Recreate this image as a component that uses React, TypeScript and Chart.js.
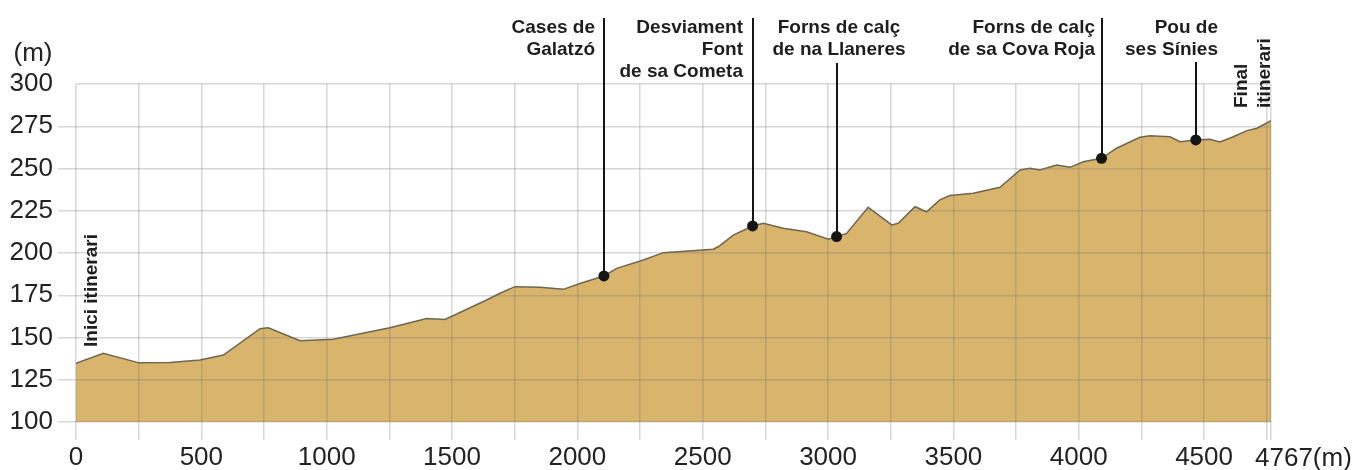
import React, { useEffect, useRef } from 'react';
import { Chart, registerables } from 'chart.js';

Chart.register(...registerables);

// ---- Data ----
const distances = [
  0, 109, 251, 375, 495, 588, 734, 767, 894, 1026, 1252, 1399, 1472, 1638, 1691, 1751, 1851, 1944,
  2010, 2106, 2157, 2263, 2343, 2542, 2562, 2622, 2699, 2742, 2821, 2914, 3001, 3034, 3074, 3160,
  3254, 3280, 3347, 3393, 3446, 3486, 3579, 3686, 3766, 3805, 3845, 3912, 3965, 4018, 4091, 4151,
  4244, 4284, 4364, 4404, 4467, 4523, 4563, 4617, 4671, 4711, 4767,
];
const elevations = [
  134.7, 140.6, 135, 135.2, 136.7, 139.6, 155.2, 155.8, 148.1, 148.9, 155.8, 161.3, 160.7, 172.2,
  176.2, 180.1, 179.7, 178.5, 182, 186.4, 190.9, 195.9, 200.2, 202.2, 203.7, 210.6, 216, 217.6,
  214.6, 212.6, 208.1, 209.7, 211.6, 227, 216.6, 217.6, 227.4, 224.4, 231.4, 234, 235.3, 238.9,
  249.1, 250.1, 249.1, 252.1, 250.7, 254, 256, 262, 268.5, 269.4, 268.8, 265.9, 266.9, 267.3,
  265.7, 268.8, 272.4, 273.8, 278.3,
];

const poiNames = [
  ['Cases de', 'Galatzó'],
  ['Desviament', 'Font', 'de sa Cometa'],
  ['Forns de calç', 'de na Llaneres'],
  ['Forns de calç', 'de sa Cova Roja'],
  ['Pou de', 'ses Sínies'],
];
const poiDistances = [2106, 2699, 3034, 4091, 4467];
const poiElevations = [186.4, 216, 209.7, 256, 266.9];

const xGridValues = [
  0, 250, 500, 750, 1000, 1250, 1500, 1750, 2000, 2250, 2500, 2750, 3000, 3250, 3500, 3750, 4000,
  4250, 4500, 4750, 4767,
];
const xLabeledValues = [0, 500, 1000, 1500, 2000, 2500, 3000, 3500, 4000, 4500];
const lastXLabel = '4767(m)';
const yUnitLabel = '(m)';
const startLabel = 'Inici itinerari';
const endLabel = ['Final', 'itinerari'];

// ---- Styling / layout (not data) ----
const FONT = '"Liberation Sans", Arial, Helvetica, sans-serif';
const poiLayout = [
  { align: 'right', dx: -9, top: 18 },
  { align: 'right', dx: -10, top: 18 },
  { align: 'center', dx: 2, top: 63 },
  { align: 'right', dx: -7, top: 18 },
  { align: 'right', dx: 22, top: 62 },
];

const overlayPlugin = {
  id: 'overlay',
  afterDraw(chart: any) {
    const ctx = chart.ctx as CanvasRenderingContext2D;
    const xs = chart.scales.x;
    const ys = chart.scales.y;
    ctx.save();
    ctx.fillStyle = '#1e1e1e';
    ctx.strokeStyle = '#151515';
    ctx.lineWidth = 2;
    ctx.font = `bold 19px ${FONT}`;
    ctx.textBaseline = 'alphabetic';
    poiNames.forEach((lines, i) => {
      const px = Math.round(xs.getPixelForValue(poiDistances[i])) + 0.0;
      const py = ys.getPixelForValue(poiElevations[i]);
      const lay = poiLayout[i];
      ctx.beginPath();
      ctx.moveTo(px, lay.top);
      ctx.lineTo(px, py);
      ctx.stroke();
      ctx.textAlign = lay.align as CanvasTextAlign;
      lines.forEach((t, j) => ctx.fillText(t, px + lay.dx, 33 + j * 22));
    });

    // rotated start / end labels
    const x0 = xs.getPixelForValue(0);
    const x1 = xs.getPixelForValue(4767);
    ctx.textAlign = 'left';
    ctx.save();
    ctx.translate(x0 + 21, 347);
    ctx.rotate(-Math.PI / 2);
    ctx.fillText(startLabel, 0, 0);
    ctx.restore();
    ctx.save();
    ctx.translate(x1 - 24, 108);
    ctx.rotate(-Math.PI / 2);
    ctx.fillText(endLabel[0], 0, 0);
    ctx.restore();
    ctx.save();
    ctx.translate(x1 - 1, 108);
    ctx.rotate(-Math.PI / 2);
    ctx.fillText(endLabel[1], 0, 0);
    ctx.restore();

    // axis unit labels
    ctx.fillStyle = '#222';
    ctx.font = `26px ${FONT}`;
    ctx.textAlign = 'center';
    ctx.fillText(yUnitLabel, 33, 61);
    ctx.textAlign = 'left';
    ctx.fillText(lastXLabel, x1 - 16, 466);
    ctx.restore();
  },
};

export default function App() {
  const canvasRef = useRef<HTMLCanvasElement | null>(null);

  useEffect(() => {
    if (!canvasRef.current) return;
    const profile = distances.map((d, i) => ({ x: d, y: elevations[i] }));
    const markers = poiDistances.map((d, i) => ({ x: d, y: poiElevations[i] }));
    const chart = new Chart(canvasRef.current, {
      type: 'line',
      data: {
        datasets: [
          {
            data: markers,
            showLine: false,
            pointRadius: 5.5,
            pointBackgroundColor: '#151515',
            pointBorderWidth: 0,
            order: 0,
          },
          {
            data: profile,
            borderColor: '#6f6650',
            borderWidth: 1.5,
            backgroundColor: '#d9b46c',
            fill: 'start',
            pointRadius: 0,
            tension: 0,
            order: 1,
          },
        ],
      },
      options: {
        responsive: false,
        animation: false,
        layout: { padding: { top: 84, right: 91, left: 0, bottom: 0 } },
        plugins: { legend: { display: false }, tooltip: { enabled: false } },
        scales: {
          x: {
            type: 'linear',
            min: 0,
            max: 4767,
            border: { display: false },
            grid: {
              z: 1,
              color: 'rgba(110,110,110,0.28)',
              lineWidth: 1.5,
              tickLength: 18,
              tickColor: 'rgba(110,110,110,0.28)',
            },
            afterBuildTicks: (scale: any) => {
              scale.ticks = xGridValues.map((v) => ({ value: v }));
            },
            afterFit: (scale: any) => {
              scale.height = 48;
            },
            ticks: {
              autoSkip: false,
              maxRotation: 0,
              padding: 2,
              color: '#222',
              font: { family: FONT, size: 26 },
              callback: (v: any) => (xLabeledValues.includes(Number(v)) ? String(v) : ''),
            },
          },
          y: {
            min: 100,
            max: 300,
            border: { display: false },
            grid: {
              z: 1,
              color: 'rgba(110,110,110,0.28)',
              lineWidth: 1.5,
              tickLength: 18,
              tickColor: (ctx: any) =>
                ctx.tick && ctx.tick.value === 300 ? 'rgba(0,0,0,0)' : 'rgba(110,110,110,0.28)',
            },
            afterFit: (scale: any) => {
              scale.width = 76;
            },
            ticks: {
              stepSize: 25,
              padding: 5,
              color: '#222',
              font: { family: FONT, size: 26 },
            },
          },
        },
      },
      plugins: [overlayPlugin],
    });
    return () => chart.destroy();
  }, []);

  return (
    <div style={{ position: 'absolute', left: 0, top: 0, width: 1362, height: 470, background: '#fff' }}>
      <canvas ref={canvasRef} width={1362} height={470} style={{ display: 'block' }} />
    </div>
  );
}
